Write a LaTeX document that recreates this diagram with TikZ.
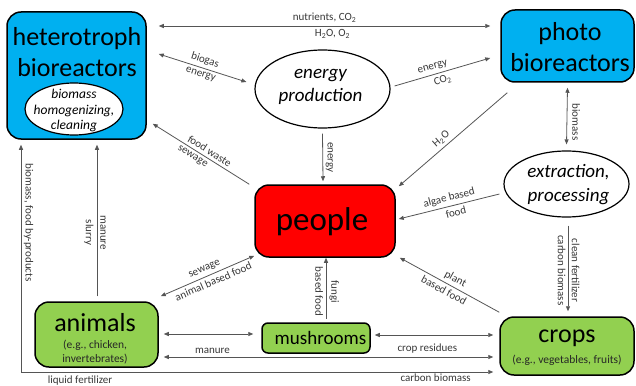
\documentclass[tikz,border=0pt]{standalone}
\usepackage{fontspec}
\setmainfont{Carlito}
\usetikzlibrary{arrows.meta,shapes.geometric}
\definecolor{cyanbox}{RGB}{0,176,240}
\definecolor{greenbox}{RGB}{146,208,80}
\definecolor{redbox}{RGB}{255,0,0}
\definecolor{linegray}{RGB}{85,85,85}
\definecolor{labgray}{RGB}{55,55,55}
\begin{document}
\begin{tikzpicture}[x=1pt,y=-1pt,
  box/.style={draw=black, line width=1.5pt, rounded corners=14pt, inner sep=0pt},
  oval/.style={draw=black, line width=1.2pt, ellipse, fill=white, inner sep=0pt},
  txt/.style={inner sep=0pt, align=center, text=black},
  conn/.style={draw=linegray, line width=0.8pt},
  arr/.style={-{Triangle[length=5pt,width=4pt]}},
  rarr/.style={{Triangle[length=5pt,width=4pt]}-},
  biarr/.style={{Triangle[length=5pt,width=4pt]}-{Triangle[length=5pt,width=4pt]}},
  lab/.style={font=\fontsize{11}{12}\selectfont, text=labgray, inner sep=3pt, align=center},
  vright/.style={lab, anchor=south, rotate=-90},
  vleft/.style={lab, anchor=north, rotate=-90}
]
\useasboundingbox (0,0) rectangle (636,385);

% boxes and ellipses
\node[box, fill=cyanbox, minimum width=139pt, minimum height=127pt] (hetero) at (76.5,75.5) {};
\node[txt, font=\fontsize{26}{31}\selectfont] (htext) at (77,52.5) {heterotroph\\bioreactors};
\node[oval, minimum width=98pt, minimum height=52pt] (inner) at (74,109) {};
\node[txt, font=\itshape\fontsize{13.5}{15.5}\selectfont] (innertext) at (74,110.5) {biomass\\homogenizing,\\cleaning};

\node[box, fill=cyanbox, minimum width=133pt, minimum height=72pt] (photo) at (567.5,46) {};
\node[txt, font=\fontsize{26}{31}\selectfont] (ptext) at (570,47.5) {photo\\bioreactors};

\node[oval, minimum width=135pt, minimum height=78pt] (energy) at (322.5,89) {};
\node[txt, font=\itshape\fontsize{19}{23}\selectfont] (etext) at (320.5,86.5) {energy\\production};

\node[oval, minimum width=125pt, minimum height=66pt] (extract) at (566.5,184) {};
\node[txt, font=\itshape\fontsize{19}{24}\selectfont] (xtext) at (568.5,185) {extraction,\\processing};

\node[box, fill=redbox, minimum width=140pt, minimum height=72pt] (people) at (325,221) {};
\node[txt, font=\fontsize{33}{38}\selectfont] (peopletext) at (322,222) {people};

\node[box, fill=greenbox, minimum width=123pt, minimum height=65pt] (animals) at (96.5,334.5) {};
\node[txt, font=\fontsize{26}{31}\selectfont] (atext) at (95,323) {animals};
\node[txt, font=\fontsize{11.5}{14}\selectfont, text=black!85] (asub) at (95,352) {(e.g., chicken,\\invertebrates)};

\node[box, rounded corners=6pt, fill=greenbox, minimum width=108pt, minimum height=30pt] (mush) at (316,338) {};
\node[txt, font=\fontsize{19}{23}\selectfont] (mtext) at (320.5,338) {mushrooms};

\node[box, fill=greenbox, minimum width=134pt, minimum height=58pt] (crops) at (567,346) {};
\node[txt, font=\fontsize{26}{31}\selectfont] (ctext) at (567,338) {crops};
\node[txt, font=\fontsize{11.5}{14}\selectfont, text=black!85] (csub) at (567,360) {(e.g., vegetables, fruits)};

% connectors
\draw[conn, biarr] ([xshift=12pt,yshift=49.5pt]hetero.east) -- ([xshift=-10pt,yshift=20pt]photo.west)
  node[lab, midway, above] {nutrients, CO\textsubscript{2}}
  node[lab, midway, below, xshift=8pt] {H\textsubscript{2}O, O\textsubscript{2}};

\draw[conn, biarr] ([xshift=12pt,yshift=21.5pt]hetero.east) -- ([xshift=-8pt,yshift=7pt]energy.west)
  node[lab, midway, sloped, above] {biogas}
  node[lab, midway, sloped, below] {energy};

\draw[conn, arr] ([xshift=4pt,yshift=3pt]energy.east) -- ([xshift=-10pt,yshift=-12pt]photo.west)
  node[lab, pos=0.42, sloped, above] {energy}
  node[lab, pos=0.48, sloped, below] {CO\textsubscript{2}};

\draw[conn, rarr] ([xshift=6pt,yshift=16pt]hetero.south east) -- ([xshift=-5pt]people.north west)
  node[lab, pos=0.55, sloped, above] {food waste}
  node[lab, pos=0.45, sloped, below] {sewage};

\draw[conn, arr] ([yshift=-5pt]energy.south) -- ([xshift=-2pt,yshift=3pt]people.north)
  node[midway, vright, inner sep=2.5pt] {energy};

\draw[conn, rarr] ([xshift=3pt,yshift=-2pt]people.north east) -- ([xshift=7pt,yshift=-10pt]photo.south west)
  node[lab, pos=0.44, sloped, above] {H\textsubscript{2}O};

\draw[conn, biarr] ([yshift=-5pt]photo.south) -- ([yshift=6pt]extract.north)
  node[midway, yshift=-6pt, vright, inner sep=5pt] {biomass};

\draw[conn, rarr] ([xshift=3pt,yshift=2pt]people.east) -- ([xshift=-4pt,yshift=-10pt]extract.west)
  node[lab, pos=0.52, sloped, above] {algae based}
  node[lab, pos=0.55, sloped, below] {food};

\draw[conn, arr] ([xshift=1.5pt,yshift=-8pt]extract.south) -- ([xshift=1pt,yshift=5pt]crops.north)
  node[midway, yshift=-2pt, vright, inner sep=3.5pt] {clean fertilizer}
  node[midway, yshift=-2pt, vleft, inner sep=2pt] {carbon biomass};

\draw[conn, rarr] ([xshift=4pt]people.south east) -- ([yshift=4pt]crops.north west)
  node[lab, pos=0.52, sloped, above] {plant}
  node[lab, pos=0.48, sloped, below] {based food};

\draw[conn, rarr] ([xshift=1pt]people.south) -- ([xshift=10pt,yshift=3pt]mush.north)
  node[midway, yshift=-3pt, vright, inner sep=3pt] {fungi}
  node[midway, yshift=-3pt, vleft, inner sep=2.5pt] {based food};

\draw[conn, biarr] ([xshift=2pt,yshift=5pt]animals.north east) -- ([yshift=2pt]people.south west)
  node[lab, midway, sloped, above] {sewage}
  node[lab, pos=0.53, sloped, below] {animal based food};

\draw[conn, arr] ([xshift=0.5pt,yshift=5pt]animals.north) -- ([xshift=20.5pt,yshift=-5pt]hetero.south)
  node[pos=0.42, vright, inner sep=3pt] {manure}
  node[pos=0.42, vleft, inner sep=3pt] {slurry};

\draw[conn, biarr] ([xshift=-55.5pt,yshift=-5pt]hetero.south) |- ([xshift=-6pt,yshift=-26pt]crops.west)
  node[pos=0.171, vright, inner sep=2.5pt] {biomass, food by-products}
  node[lab, pos=0.5625, below, inner sep=3.5pt] {liquid fertilizer}
  node[lab, pos=0.939, below, inner sep=1.5pt] {carbon biomass};

\draw[conn, biarr] ([xshift=5pt,yshift=0.5pt]animals.east) -- ([xshift=-8pt,yshift=4pt]mush.west);

\draw[conn, biarr] ([xshift=4pt,yshift=3pt]mush.east) -- ([xshift=-6pt,yshift=11pt]crops.west);

\draw[conn, biarr] ([xshift=5pt,yshift=-22.5pt]animals.east) -- ([xshift=-6pt,yshift=-11pt]crops.west)
  node[lab, pos=0.148, above] {manure}
  node[lab, pos=0.80, above] {crop residues};
\end{tikzpicture}
\end{document}
